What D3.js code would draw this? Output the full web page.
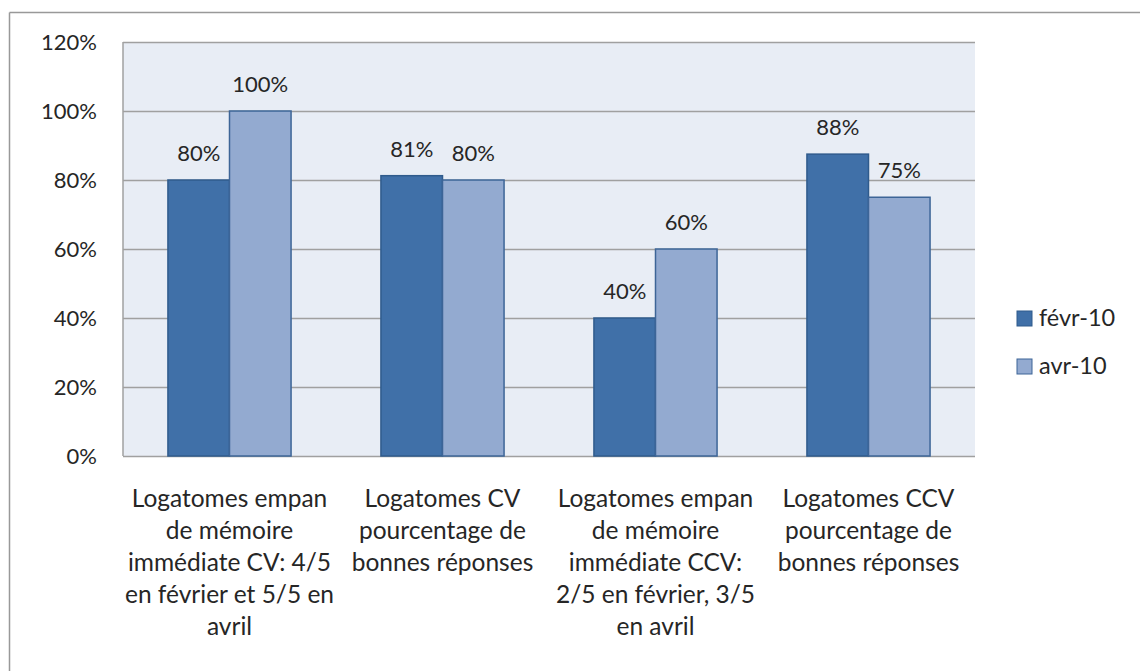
<!DOCTYPE html>
<html>
<head>
<meta charset="utf-8">
<script src="https://cdn.jsdelivr.net/npm/d3@7"></script>
<style>
  body { margin: 0; background: #fff; }
  text { font-family: Lato, "Open Sans", sans-serif; fill: #262626; }
</style>
</head>
<body>
<svg width="1140" height="671"></svg>
<script>
// data
var categories = [
  ["Logatomes empan", "de mémoire", "immédiate CV: 4/5", "en février et 5/5 en", "avril"],
  ["Logatomes CV", "pourcentage de", "bonnes réponses"],
  ["Logatomes empan", "de mémoire", "immédiate CCV:", "2/5 en février, 3/5", "en avril"],
  ["Logatomes CCV", "pourcentage de", "bonnes réponses"]
];
var seriesNames = ["févr-10", "avr-10"];
var fevr = [0.80, 0.8125, 0.40, 0.875];
var avr = [1.00, 0.80, 0.60, 0.75];
var yTicks = [0, 0.2, 0.4, 0.6, 0.8, 1.0, 1.2];

var colors = ["#4070a8", "#93aad0"];
var strokes = ["#2f5b8c", "#3d6597"];

var svg = d3.select("svg");
var numSize = 22, catSize = 24.5, legSize = 23.5;

// outer frame (only top and left visible)
svg.append("line").attr("x1", 9.5).attr("x2", 1140).attr("y1", 12.5).attr("y2", 12.5)
  .attr("stroke", "#999").attr("stroke-width", 1.5);
svg.append("line").attr("x1", 9.5).attr("x2", 9.5).attr("y1", 12.5).attr("y2", 671)
  .attr("stroke", "#999").attr("stroke-width", 1.5);

var margin = {left: 123, top: 42, right: 975, bottom: 456};

var x = d3.scaleBand()
  .domain(d3.range(categories.length))
  .range([margin.left, margin.right])
  .paddingInner(0).paddingOuter(0);

var x1 = d3.scaleBand()
  .domain([0, 1])
  .range([0, x.bandwidth()])
  .paddingOuter(0.73).paddingInner(0);

var y = d3.scaleLinear().domain([0, 1.2]).range([margin.bottom, margin.top]);

// plot background
svg.append("rect")
  .attr("x", margin.left).attr("y", margin.top)
  .attr("width", margin.right - margin.left).attr("height", margin.bottom - margin.top)
  .attr("fill", "#e8edf5");

// gridlines
svg.append("g").selectAll("line")
  .data(yTicks)
  .enter().append("line")
  .attr("x1", margin.left).attr("x2", margin.right)
  .attr("y1", function(d) { return Math.round(y(d)) + 0.5; })
  .attr("y2", function(d) { return Math.round(y(d)) + 0.5; })
  .attr("stroke", "#a0a0a0").attr("stroke-width", 1.5);

// left axis line
svg.append("line").attr("x1", margin.left).attr("x2", margin.left)
  .attr("y1", margin.top).attr("y2", margin.bottom)
  .attr("stroke", "#a0a0a0").attr("stroke-width", 1.5);

// y axis labels
var yAxis = d3.axisLeft(y).tickValues(yTicks).tickFormat(d3.format(".0%")).tickSize(0).tickPadding(26);
var ya = svg.append("g").attr("transform", "translate(" + margin.left + ",0)").call(yAxis);
ya.select(".domain").remove();
ya.selectAll("text").style("font-size", numSize + "px").style("font-family", "Lato, sans-serif").attr("fill", "#262626");

// bars
var data = [fevr, avr];
var groups = svg.append("g").selectAll("g")
  .data(data)
  .enter().append("g")
  .attr("fill", function(d, i) { return colors[i]; })
  .attr("stroke", function(d, i) { return strokes[i]; });

groups.each(function(vals, s) {
  var g = d3.select(this);
  g.selectAll("rect")
    .data(vals)
    .enter().append("rect")
    .attr("x", function(d, i) { return x(i) + x1(s); })
    .attr("y", function(d) { return y(d); })
    .attr("width", x1.bandwidth())
    .attr("height", function(d) { return y(0) - y(d); })
    .attr("stroke-width", 1.5);
  svg.append("g").selectAll("text")
    .data(vals)
    .enter().append("text")
    .attr("x", function(d, i) { return x(i) + x1(s) + x1.bandwidth() / 2; })
    .attr("y", function(d) { return y(d) - 19; })
    .attr("text-anchor", "middle")
    .style("font-size", numSize + "px")
    .text(function(d) { return Math.round(d * 100) + "%"; });
});

// category labels
var cat = svg.append("g").selectAll("text")
  .data(categories)
  .enter().append("text")
  .attr("text-anchor", "middle")
  .attr("x", function(d, i) { return x(i) + x.bandwidth() / 2; })
  .attr("y", 507)
  .style("font-size", catSize + "px");
cat.selectAll("tspan")
  .data(function(d) { return d; })
  .enter().append("tspan")
  .attr("x", function() { return this.parentNode.getAttribute("x"); })
  .attr("y", function(d, i) { return 507 + i * 32; })
  .text(function(d) { return d; });

// legend
var legend = svg.append("g").selectAll("g")
  .data(seriesNames)
  .enter().append("g")
  .attr("transform", function(d, i) { return "translate(1017," + (311 + i * 48) + ")"; });
legend.append("rect")
  .attr("width", 15).attr("height", 15)
  .attr("fill", function(d, i) { return colors[i]; })
  .attr("stroke", function(d, i) { return strokes[i]; })
  .attr("stroke-width", 1);
legend.append("text")
  .attr("x", 22).attr("y", 15)
  .style("font-size", legSize + "px")
  .text(function(d) { return d; });
</script>
</body>
</html>
